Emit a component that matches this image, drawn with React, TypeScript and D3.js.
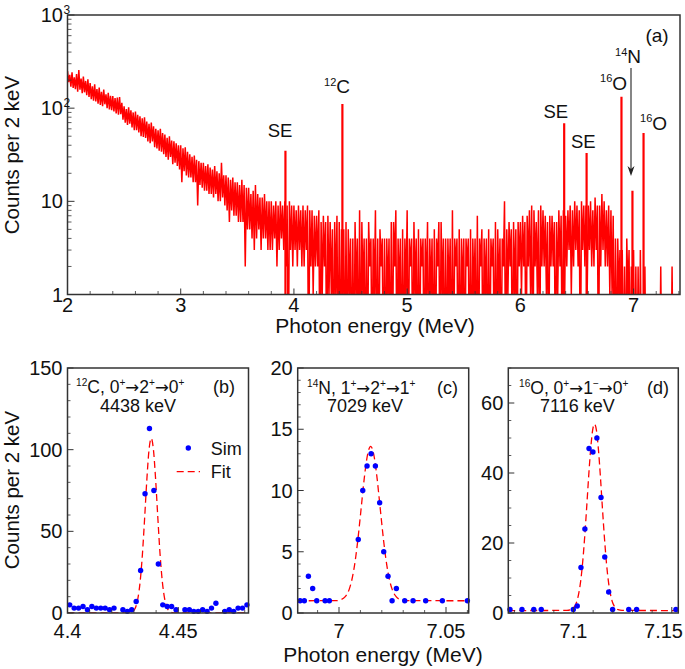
import React from "react";
import * as d3 from "d3";

const W = 685;
const H = 669;
const FONT = "'Liberation Sans', Arial, Helvetica, sans-serif";

// ---------- Panel (a): measured spectrum, envelope per 20 keV (high / low counts) ----------
const spectrumStart = 2.0;
const spectrumStep = 0.02;
const spectrumHi = [
  250, 228, 242, 214, 232, 256, 208, 218, 196, 204,
  186, 172, 180, 160, 166, 150, 158, 141, 146, 136,
  135, 128, 130, 132, 114, 105, 98, 102, 95, 90,
  92, 85, 82, 78, 80, 72, 68, 70, 64, 60,
  58, 60, 54, 52, 48, 50, 45, 44, 42, 40,
  40, 37, 38, 34, 32, 30, 31, 28, 27, 26,
  26, 24, 25, 23, 22, 24, 21, 20, 26, 19,
  19, 18, 17, 18, 16, 16, 15, 17, 15, 14,
  14, 12, 13, 15, 12, 11, 11, 12, 10, 10,
  10, 9, 10, 9, 10, 9, 10, 9, 10, 9,
  9, 8, 9, 8, 9, 8, 9, 8, 8, 7,
  7, 8, 6, 7, 6, 7, 6, 5, 6, 7,
  6, 5, 5, 6, 5, 4, 4, 6, 4, 8,
  6, 4, 4, 6, 4, 4, 8, 4, 5, 4,
  4, 4, 4, 6, 6, 8, 4, 4, 5, 4,
  8, 4, 4, 6, 4, 5, 4, 4, 4, 6,
  4, 4, 5, 4, 6, 6, 4, 4, 4, 4,
  8, 4, 4, 5, 4, 4, 4, 4, 5, 4,
  4, 7, 4, 5, 4, 4, 5, 4, 4, 6,
  5, 4, 4, 10, 5, 6, 5, 6, 5, 6,
  6, 7, 6, 7, 8, 9, 8, 6, 8, 9,
  8, 7, 6, 7, 7, 6, 6, 8, 7, 8,
  7, 8, 9, 8, 10, 9, 8, 10, 9, 9,
  9, 10, 8, 11, 9, 9, 12, 10, 8, 9,
  8, 7, 4, 4, 3, 3, 2, 4, 3, 2,
  3, 2, 2, 3, 1, 2, 0, 1, 1, 0,
  1, 0, 2, 0, 1, 0, 0, 2, 0, 1,
];
const spectrumLo = [
  190, 170, 165, 160, 150, 158, 145, 148, 138, 132,
  125, 120, 118, 112, 108, 105, 110, 100, 97, 95,
  92, 88, 85, 86, 75, 70, 66, 68, 62, 58,
  58, 55, 50, 49, 48, 44, 42, 44, 38, 37,
  35, 34, 32, 30, 28, 30, 25, 26, 24, 22,
  16, 21, 19, 18, 18, 16, 16, 9, 15, 14,
  13, 13, 12, 12, 11, 12, 10, 10, 11, 9,
  8, 6, 8, 7, 7, 6, 6, 6, 2, 5,
  5, 4, 3, 4, 5, 3, 4, 4, 3, 3,
  3, 4, 2, 3, 4, 3, 2, 0, 3, 2,
  3, 2, 3, 2, 2, 3, 0, 2, 1, 2,
  2, 0, 1, 2, 0, 1, 1, 0, 1, 0,
  0, 1, 0, 0, 1, 0, 0, 1, 0, 0,
  1, 0, 0, 2, 0, 1, 0, 0, 2, 0,
  0, 1, 0, 0, 2, 0, 1, 0, 0, 1,
  0, 2, 0, 1, 0, 0, 2, 0, 1, 0,
  1, 0, 0, 2, 0, 1, 0, 0, 1, 0,
  0, 2, 0, 0, 1, 0, 2, 0, 0, 1,
  0, 0, 2, 0, 1, 0, 0, 2, 0, 0,
  1, 0, 2, 0, 1, 2, 0, 1, 0, 2,
  1, 2, 0, 2, 1, 0, 2, 1, 0, 2,
  2, 1, 0, 2, 2, 0, 1, 2, 0, 1,
  2, 3, 1, 2, 3, 2, 0, 3, 2, 1,
  3, 2, 2, 3, 0, 2, 3, 2, 2, 1,
  1, 0, 0, 1, 0, 0, 0, 1, 0, 0,
  0, 0, 0, 0, 0, 0, 0, 0, 0, 0,
  0, 0, 0, 0, 0, 0, 0, 0, 0, 0,
];
const peakEnergies = [3.925, 4.428, 6.387, 6.585, 6.893, 6.99, 7.088];
const peakCounts = [35, 111, 69, 33, 133, 13, 54];

const topXTicks = [2, 3, 4, 5, 6, 7];
const topYTicks = [1, 10, 100, 1000];
const topYTickBase = ["1", "10", "10", "10"];
const topYTickExp = ["", "", "2", "3"];

// ---------- Panel (b): 12C ----------
const bEnergy = [4.401, 4.403, 4.405, 4.407, 4.409, 4.411, 4.413, 4.415, 4.417, 4.419, 4.421,
  4.425, 4.427, 4.429, 4.431, 4.433, 4.435, 4.437, 4.439, 4.441, 4.443, 4.445, 4.447, 4.449,
  4.453, 4.455, 4.457, 4.459, 4.461, 4.463, 4.465, 4.467,
  4.471, 4.473, 4.475, 4.477, 4.479, 4.481];
const bCounts = [5, 3, 3, 4, 2, 4, 3, 3, 3, 2, 3,
  2, 1, 2, 7, 26, 73, 113, 75, 30, 5, 4, 4, 2,
  2, 2, 1, 1, 2, 1, 3, 6,
  1, 2, 1, 3, 3, 5];
const bFitEnergy = [4.4, 4.4268, 4.4278, 4.4288, 4.4298, 4.4308, 4.4318, 4.4328, 4.4338, 4.4348, 4.4358,
  4.4368, 4.4378, 4.4388, 4.4398, 4.4408, 4.4418, 4.4428, 4.4438, 4.4448, 4.4458, 4.4468, 4.4478, 4.4488, 4.4817];
const bFitCounts = [0, 0, 0.1, 0.4, 1.3, 3.7, 9.1, 19.3, 35.7, 57.7, 81.3,
  99.9, 107, 99.9, 81.3, 57.7, 35.7, 19.3, 9.1, 3.7, 1.3, 0.4, 0.1, 0, 0];
const bXTicks = [4.4, 4.45];
const bXTickLabels = ["4.4", "4.45"];
const bYTicks = [0, 50, 100, 150];

// ---------- Panel (c): 14N ----------
const cEnergy = [6.9818, 6.9838, 6.9857, 6.9877, 6.9896, 6.9935, 6.9955, 7.009, 7.0111, 7.0131, 7.015,
  7.017, 7.019, 7.0209, 7.0229, 7.0248, 7.0268, 7.0307, 7.0346, 7.0405, 7.0483, 7.06];
const cCounts = [1, 1, 3, 2, 1, 1, 1, 6, 10, 12, 13, 12, 9, 5, 3, 1, 2, 1, 1, 1, 1, 1];
const cFitEnergy = [6.9807, 6.9988, 7.0008, 7.0028, 7.0048, 7.0058, 7.0068, 7.0078, 7.0088, 7.0098, 7.0108,
  7.0118, 7.0128, 7.0138, 7.0148, 7.0158, 7.0168, 7.0178, 7.0188, 7.0198, 7.0208, 7.0218, 7.0228,
  7.0238, 7.0248, 7.0268, 7.0288, 7.0308, 7.0606];
const cFitCounts = [1, 1.01, 1.08, 1.31, 1.95, 2.55, 3.41, 4.55, 5.97, 7.61, 9.33,
  10.99, 12.37, 13.28, 13.6, 13.28, 12.37, 10.99, 9.33, 7.61, 5.97, 4.55, 3.41,
  2.55, 1.95, 1.31, 1.08, 1.01, 1];
const cXTicks = [7, 7.05];
const cXTickLabels = ["7", "7.05"];
const cYTicks = [0, 5, 10, 15, 20];

// ---------- Panel (d): 16O ----------
const dEnergy = [7.0677, 7.0738, 7.0798, 7.0836, 7.0999, 7.1019, 7.1038, 7.1058, 7.1079, 7.1099,
  7.1119, 7.114, 7.1159, 7.1179, 7.1199, 7.1281, 7.1321, 7.1521];
const dCounts = [1, 1, 1, 1, 1, 2, 13, 24, 47, 46, 50, 33, 16, 6, 1, 1, 1, 1];
const dFitEnergy = [7.0668, 7.0967, 7.0987, 7.1007, 7.1017, 7.1027, 7.1037, 7.1047, 7.1057, 7.1067,
  7.1077, 7.1087, 7.1097, 7.1107, 7.1117, 7.1127, 7.1137, 7.1147, 7.1157, 7.1167, 7.1177, 7.1187,
  7.1197, 7.1207, 7.1227, 7.1247, 7.1533];
const dFitCounts = [0.7, 0.74, 0.96, 2.0, 3.3, 5.7, 9.3, 14.7, 21.8, 30.1,
  38.9, 46.6, 52.1, 54, 52.1, 46.6, 38.9, 30.1, 21.8, 14.7, 9.3, 5.7,
  3.3, 2.0, 0.96, 0.74, 0.7];
const dXTicks = [7.1, 7.15];
const dXTickLabels = ["7.1", "7.15"];
const dYTicks = [0, 20, 40, 60];

const AXIS = "#333";
const RED = "#ff0000";
const BLUE = "#0000ff";
const ARROW_FONT = "'DejaVu Sans', 'Liberation Sans', sans-serif";

type Seg = { t: string; sup?: boolean; arrow?: boolean };

function Rich({ x, y, segs, fs, anchor = "start" }: { x: number; y: number; segs: Seg[]; fs: number; anchor?: string }) {
  let cur = 0;
  return (
    <text x={x} y={y} fontSize={fs} textAnchor={anchor as any} fill="#111">
      {segs.map((s, i) => {
        const target = s.sup ? -fs * 0.4 : 0;
        const dy = target - cur;
        cur = target;
        return (
          <tspan
            key={i}
            dy={dy}
            fontSize={s.sup ? fs * 0.58 : s.arrow ? fs * 0.95 : fs}
            fontFamily={s.arrow ? ARROW_FONT : undefined}
          >
            {s.t}
          </tspan>
        );
      })}
    </text>
  );
}

type PanelProps = {
  left: number; right: number; top: number; bottom: number;
  xDomain: [number, number]; yDomain: [number, number];
  energy: number[]; counts: number[];
  fitE: number[]; fitC: number[];
  xTicks: number[]; xLabels: string[]; xMinorStep: number;
  yTicks: number[]; yMinorStep: number;
  id: string;
  lastLabelEnd?: number;
};

function Panel(p: PanelProps) {
  const x = d3.scaleLinear().domain(p.xDomain).range([p.left, p.right]);
  const y = d3.scaleLinear().domain(p.yDomain).range([p.bottom, p.top]);
  const fitPts = p.fitE.map((e, i) => [e, p.fitC[i]] as [number, number]);
  const fitLine = d3.line<[number, number]>().x((d) => x(d[0])).y((d) => y(d[1])).curve(d3.curveMonotoneX);
  const xMinor = d3.range(Math.ceil(p.xDomain[0] / p.xMinorStep - 1e-6), Math.floor(p.xDomain[1] / p.xMinorStep + 1e-6) + 1)
    .map((k) => k * p.xMinorStep)
    .filter((v) => !p.xTicks.some((t) => Math.abs(t - v) < 1e-6) && v > p.xDomain[0] + 1e-6 && v < p.xDomain[1] - 1e-6);
  const yMinor = d3.range(0, p.yDomain[1] + 1e-6, p.yMinorStep).filter((v) => !p.yTicks.some((t) => Math.abs(t - v) < 1e-6));
  return (
    <g>
      <defs>
        <clipPath id={p.id}>
          <rect x={p.left} y={p.top} width={p.right - p.left} height={p.bottom - p.top} />
        </clipPath>
      </defs>
      <path d={fitLine(fitPts) || ""} fill="none" stroke={RED} strokeWidth={1.3} strokeDasharray="7,4" clipPath={`url(#${p.id})`} />
      {p.energy.map((e, i) => (
        <circle key={i} cx={x(e)} cy={y(p.counts[i])} r={2.7} fill={BLUE} />
      ))}
      {p.yTicks.map((t) => (
        <line key={"yt" + t} x1={p.left} x2={p.left + 6} y1={y(t)} y2={y(t)} stroke={AXIS} strokeWidth={1} />
      ))}
      {yMinor.map((t) => (
        <line key={"ym" + t} x1={p.left} x2={p.left + 3} y1={y(t)} y2={y(t)} stroke={AXIS} strokeWidth={0.8} />
      ))}
      {p.xTicks.map((t) => (
        <line key={"xt" + t} x1={x(t)} x2={x(t)} y1={p.bottom} y2={p.bottom - 6} stroke={AXIS} strokeWidth={1} />
      ))}
      {xMinor.map((t) => (
        <line key={"xm" + t} x1={x(t)} x2={x(t)} y1={p.bottom} y2={p.bottom - 3} stroke={AXIS} strokeWidth={0.8} />
      ))}
      <rect x={p.left} y={p.top} width={p.right - p.left} height={p.bottom - p.top} fill="none" stroke={AXIS} strokeWidth={1.5} />
      {p.yTicks.map((t) => (
        <text key={"yl" + t} x={p.left - 5} y={y(t) + 7} fontSize={20} textAnchor="end" fill="#111">
          {t}
        </text>
      ))}
      {p.xTicks.map((t, i) => {
        const isLast = i === p.xTicks.length - 1 && p.lastLabelEnd !== undefined;
        return (
          <text key={"xl" + t} x={isLast ? p.lastLabelEnd : x(t)} y={638} fontSize={20} textAnchor={isLast ? "end" : "middle"} fill="#111">
            {p.xLabels[i]}
          </text>
        );
      })}
    </g>
  );
}

export default function App() {
  const xTop = d3.scaleLinear().domain([2, 7.41]).range([67.5, 680]);
  const yTop = d3.scaleLog().domain([1, 1000]).range([294.5, 15]);
  const L = 67.5, R = 680, T = 15, B = 294.5;

  const pts: [number, number][] = [];
  spectrumHi.forEach((h, i) => {
    const e = spectrumStart + spectrumStep * i;
    pts.push([e, h]);
    pts.push([e + spectrumStep * 0.5, spectrumLo[i]]);
  });
  const specLine = d3
    .line<[number, number]>()
    .x((d) => xTop(d[0]))
    .y((d) => yTop(Math.max(d[1], 0.1)));

  const topMinorY: number[] = [];
  [1, 10, 100].forEach((dec) => {
    for (let m = 2; m <= 9; m++) topMinorY.push(m * dec);
  });
  const topMinorX = d3.range(11, 38).map((k) => k * 0.2).filter((v) => Math.abs(v - Math.round(v)) > 1e-6 && v < 7.41);

  return (
    <svg width={W} height={H} style={{ position: "absolute", left: 0, top: 0, background: "#fff" }} fontFamily={FONT}>
      <rect x={0} y={0} width={W} height={H} fill="#fff" />
      {/* ---------------- Panel (a) ---------------- */}
      <defs>
        <clipPath id="clipA">
          <rect x={L} y={T} width={R - L} height={B - T} />
        </clipPath>
      </defs>
      <g clipPath="url(#clipA)">
        <path d={specLine(pts) || ""} fill="none" stroke={RED} strokeWidth={1.5} strokeLinejoin="miter" />
        {peakEnergies.map((e, i) => (
          <line key={i} x1={xTop(e)} x2={xTop(e)} y1={yTop(1)} y2={yTop(peakCounts[i])} stroke={RED} strokeWidth={2.2} />
        ))}
      </g>
      {topYTicks.map((t) => (
        <line key={"ty" + t} x1={L} x2={L + 7} y1={yTop(t)} y2={yTop(t)} stroke={AXIS} strokeWidth={1} />
      ))}
      {topMinorY.map((t) => (
        <line key={"tym" + t} x1={L} x2={L + 4} y1={yTop(t)} y2={yTop(t)} stroke={AXIS} strokeWidth={0.8} />
      ))}
      {topXTicks.map((t) => (
        <line key={"tx" + t} x1={xTop(t)} x2={xTop(t)} y1={B} y2={B - 6} stroke={AXIS} strokeWidth={1} />
      ))}
      {topMinorX.map((t) => (
        <line key={"txm" + t} x1={xTop(t)} x2={xTop(t)} y1={B} y2={B - 3.5} stroke={AXIS} strokeWidth={0.8} />
      ))}
      <rect x={L} y={T} width={R - L} height={B - T} fill="none" stroke={AXIS} strokeWidth={1.5} />
      {topYTicks.map((t, i) => (
        <g key={"tyl" + t}>
          <text x={63} y={yTop(t) + 7} fontSize={20} textAnchor="end" fill="#111">
            {topYTickBase[i]}
          </text>
          {topYTickExp[i] && (
            <text x={63.5} y={yTop(t) - 1} fontSize={12} fill="#111">
              {topYTickExp[i]}
            </text>
          )}
        </g>
      ))}
      {topXTicks.map((t) => (
        <text key={"txl" + t} x={xTop(t)} y={312} fontSize={20} textAnchor="middle" fill="#111">
          {t}
        </text>
      ))}
      <text x={375} y={333} fontSize={21} textAnchor="middle" fill="#111">
        Photon energy (MeV)
      </text>
      <text transform="translate(19,155) rotate(-90)" fontSize={20.5} textAnchor="middle" fill="#111">
        Counts per 2 keV
      </text>

      {/* annotations */}
      <text x={657} y={41.7} fontSize={19} textAnchor="middle" fill="#111">(a)</text>
      <text x={280} y={136.7} fontSize={18.5} textAnchor="middle" fill="#111">SE</text>
      <text x={555.8} y={118.3} fontSize={18.5} textAnchor="middle" fill="#111">SE</text>
      <text x={583.3} y={147.7} fontSize={18.5} textAnchor="middle" fill="#111">SE</text>
      <Rich x={324} y={93.3} fs={19} segs={[{ t: "12", sup: true }, { t: "C" }]} />
      <Rich x={600} y={90} fs={19} segs={[{ t: "16", sup: true }, { t: "O" }]} />
      <Rich x={615} y={63.3} fs={19} segs={[{ t: "14", sup: true }, { t: "N" }]} />
      <Rich x={640} y={130} fs={19} segs={[{ t: "16", sup: true }, { t: "O" }]} />
      <line x1={631} x2={631} y1={68} y2={171} stroke="#222" strokeWidth={1.1} />
      <path d="M627.5,166 L631,176 L634.5,166 L631,169 Z" fill="#222" />

      {/* ---------------- Panel (b) ---------------- */}
      <Panel
        id="clipB"
        left={67.5} right={248.5} top={368} bottom={613}
        xDomain={[4.4, 4.4817]} yDomain={[0, 150]}
        energy={bEnergy} counts={bCounts} fitE={bFitEnergy} fitC={bFitCounts}
        xTicks={bXTicks} xLabels={bXTickLabels} xMinorStep={0.01}
        yTicks={bYTicks} yMinorStep={10}
      />
      <Rich x={76} y={393} fs={17.5} segs={[{ t: "12", sup: true }, { t: "C, 0" }, { t: "+", sup: true }, { t: "\u2192", arrow: true }, { t: "2" }, { t: "+", sup: true }, { t: "\u2192", arrow: true }, { t: "0" }, { t: "+", sup: true }]} />
      <text x={213} y={393} fontSize={18} fill="#111">(b)</text>
      <text x={100} y={412} fontSize={18} fill="#111">4438 keV</text>
      <circle cx={188.3} cy={448} r={2.7} fill={BLUE} />
      <text x={210.7} y={454.5} fontSize={18} fill="#111">Sim</text>
      <line x1={176.7} x2={200} y1={471.7} y2={471.7} stroke={RED} strokeWidth={1.3} strokeDasharray="7,4" />
      <text x={210.7} y={478} fontSize={18} fill="#111">Fit</text>

      {/* ---------------- Panel (c) ---------------- */}
      <Panel
        id="clipC"
        left={297.7} right={468.7} top={368} bottom={613}
        xDomain={[6.9807, 7.0606]} yDomain={[0, 20]}
        energy={cEnergy} counts={cCounts} fitE={cFitEnergy} fitC={cFitCounts}
        xTicks={cXTicks} xLabels={cXTickLabels} xMinorStep={0.01}
        yTicks={cYTicks} yMinorStep={1}
      />
      <Rich x={307} y={394} fs={17.5} segs={[{ t: "14", sup: true }, { t: "N, 1" }, { t: "+", sup: true }, { t: "\u2192", arrow: true }, { t: "2" }, { t: "+", sup: true }, { t: "\u2192", arrow: true }, { t: "1" }, { t: "+", sup: true }]} />
      <text x={437} y={394} fontSize={18} fill="#111">(c)</text>
      <text x={327} y={412} fontSize={18} fill="#111">7029 keV</text>

      {/* ---------------- Panel (d) ---------------- */}
      <Panel
        id="clipD"
        left={508.3} right={678.3} top={368} bottom={613}
        xDomain={[7.06684, 7.15331]} yDomain={[0, 70]}
        energy={dEnergy} counts={dCounts} fitE={dFitEnergy} fitC={dFitCounts}
        xTicks={dXTicks} xLabels={dXTickLabels} xMinorStep={0.01}
        yTicks={dYTicks} yMinorStep={5}
        lastLabelEnd={683}
      />
      <Rich x={519} y={394} fs={17.5} segs={[{ t: "16", sup: true }, { t: "O, 0" }, { t: "+", sup: true }, { t: "\u2192", arrow: true }, { t: "1" }, { t: "\u2212", sup: true }, { t: "\u2192", arrow: true }, { t: "0" }, { t: "+", sup: true }]} />
      <text x={647} y={394} fontSize={18} fill="#111">(d)</text>
      <text x={540} y={412} fontSize={18} fill="#111">7116 keV</text>

      <text x={383} y={662} fontSize={21} textAnchor="middle" fill="#111">
        Photon energy (MeV)
      </text>
      <text transform="translate(19,490) rotate(-90)" fontSize={20.5} textAnchor="middle" fill="#111">
        Counts per 2 keV
      </text>
    </svg>
  );
}
